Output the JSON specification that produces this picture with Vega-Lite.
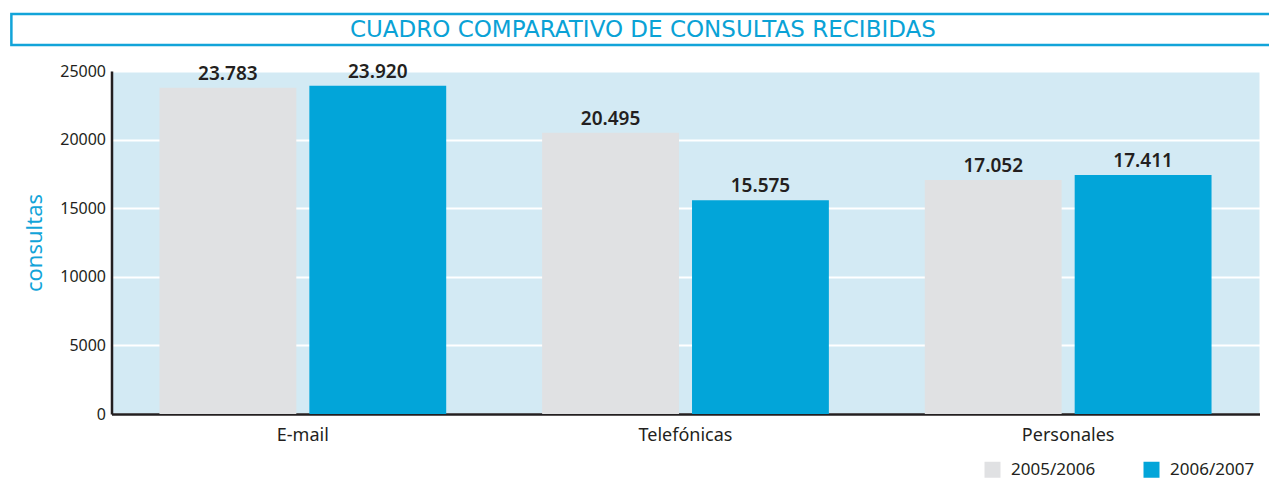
{
  "$schema": "https://vega.github.io/schema/vega-lite/v6.json",
  "background": "white",
  "padding": {"left": 10, "top": 12, "right": 0, "bottom": 16},
  "spacing": 15,
  "center": true,
  "config": {
    "locale": {"number": {"decimal": ",", "thousands": ".", "grouping": [3], "currency": ["", " €"]}},
    "font": "Noto Sans"
  },
  "vconcat": [
    {
      "width": 1347,
      "height": 31,
      "view": {"stroke": "#12a4d9", "strokeWidth": 2.5, "fill": "white"},
      "data": {"values": [{"titulo": "CUADRO COMPARATIVO DE CONSULTAS RECIBIDAS"}]},
      "mark": {"type": "text", "font": "DejaVu Sans", "fontSize": 23, "dx": -42, "color": "#0aa2d6"},
      "encoding": {"text": {"field": "titulo", "type": "nominal"}}
    },
    {
      "width": 1148,
      "height": 343,
      "view": {"fill": "#d3eaf4", "stroke": null},
      "data": {
        "values": [
          {"tipo": "E-mail", "periodo": "2005/2006", "consultas": 23783},
          {"tipo": "E-mail", "periodo": "2006/2007", "consultas": 23920},
          {"tipo": "Telefónicas", "periodo": "2005/2006", "consultas": 20495},
          {"tipo": "Telefónicas", "periodo": "2006/2007", "consultas": 15575},
          {"tipo": "Personales", "periodo": "2005/2006", "consultas": 17052},
          {"tipo": "Personales", "periodo": "2006/2007", "consultas": 17411}
        ]
      },
      "encoding": {
        "x": {
          "field": "tipo",
          "type": "nominal",
          "sort": ["E-mail", "Telefónicas", "Personales"],
          "scale": {"paddingInner": 0, "paddingOuter": 0},
          "axis": {
            "title": null,
            "labelAngle": 0,
            "labelFontSize": 18,
            "labelColor": "#231f20",
            "labelPadding": 12,
            "ticks": false,
            "domainColor": "#231f20",
            "domainWidth": 2.5,
            "grid": false
          }
        },
        "xOffset": {
          "field": "periodo",
          "type": "nominal",
          "sort": ["2005/2006", "2006/2007"],
          "scale": {"paddingInner": 0.087, "paddingOuter": 0.32}
        },
        "y": {
          "field": "consultas",
          "type": "quantitative",
          "scale": {"domain": [0, 25000]},
          "axis": {
            "title": "consultas",
            "titleColor": "#12a4d9",
            "titleFontSize": 22,
            "titleFontWeight": "normal",
            "titlePadding": 13,
            "values": [0, 5000, 10000, 15000, 20000, 25000],
            "format": "d",
            "labelFontSize": 16,
            "labelColor": "#231f20",
            "labelPadding": 6,
            "ticks": false,
            "domainColor": "#231f20",
            "domainWidth": 2.5,
            "gridColor": "white",
            "gridWidth": 2,
            "gridOpacity": 1
          }
        }
      },
      "layer": [
        {
          "mark": {"type": "bar"},
          "encoding": {
            "color": {
              "field": "periodo",
              "type": "nominal",
              "scale": {"domain": ["2005/2006", "2006/2007"], "range": ["#e0e1e3", "#02a5d9"]},
              "legend": {
                "title": null,
                "orient": "none",
                "legendX": 973,
                "legendY": 447,
                "direction": "horizontal",
                "symbolType": "square",
                "symbolSize": 256,
                "symbolStrokeWidth": 0,
                "labelFontSize": 17,
                "labelColor": "#231f20",
                "labelOffset": 10,
                "columnPadding": 47
              }
            }
          }
        },
        {
          "mark": {"type": "text", "baseline": "bottom", "dy": -4, "fontSize": 19, "fontWeight": 600, "color": "#231f20"},
          "encoding": {"text": {"field": "consultas", "type": "quantitative", "format": ",d"}}
        }
      ]
    }
  ]
}
